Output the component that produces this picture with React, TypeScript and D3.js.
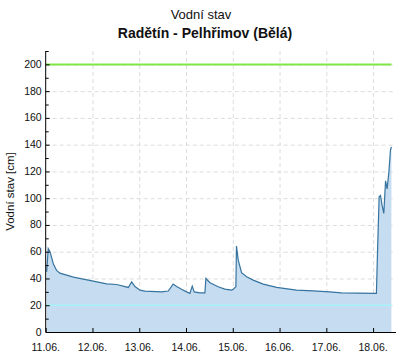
import React, { useRef, useEffect } from 'react';
import * as d3 from 'd3';

// hours since 11.06. 00:00
const hours = [
  0.5, 1.3, 2.2, 3.9, 5.6, 7.3, 10.8, 14.2, 19.3, 24.4, 31.3, 36.4, 42.4, 44.1, 45.8,
  48.4, 50.9, 59.5, 62.9, 65.4, 67.2, 69.7, 72.3, 74, 75.2, 76.2, 79.1, 81.7, 82.2,
  84.3, 88.5, 91.9, 95.4, 96.2, 97.6, 97.9, 98.8, 100.5, 103.1, 106.5, 111.6, 118.5,
  128.7, 137.2, 145.8, 151.8, 168.9, 169.7, 170.3, 171.1, 171.8, 172.6, 173.5, 174.4,
  175.2, 176.1, 176.9, 177.4,
];
// water level [cm]
const levels = [
  45, 62.4, 60, 51, 46, 44, 42.5, 41, 39.5, 38, 36, 35.5, 33.3, 37.5, 34,
  31.3, 30.6, 30, 30.6, 35.8, 34, 31.9, 30, 28.9, 34.3, 30, 29.3, 29.3, 40,
  36.8, 33.8, 32, 31.3, 31.9, 33.8, 64.2, 53.7, 44.3, 41.3, 38.8, 35.8, 33.3,
  31.3, 30.8, 30, 29.3, 28.9, 28.9, 61, 101, 102, 94.8, 88.6, 113,
  107, 119.6, 135.8, 138.3,
];
const dayLabels = ['11.06.', '12.06.', '13.06.', '14.06.', '15.06.', '16.06.', '17.06.', '18.06.'];
const limitHigh = 200;
const limitLow = 20;

const W = 402;
const H = 355;
const FONT = '"Liberation Sans", Arial, sans-serif';

const App = () => {
  const ref = useRef<SVGSVGElement>(null);

  useEffect(() => {
    const svg = d3.select(ref.current);
    svg.selectAll('*').remove();

    const m = { left: 45.7, right: 6.5, top: 51, bottom: 23 };
    const x = d3.scaleLinear().domain([0, 179.5]).range([m.left, W - m.right]);
    const y = d3.scaleLinear().domain([0, 210]).range([H - m.bottom, m.top]);

    const data = hours.map((h, i) => [h, levels[i]] as [number, number]);
    const dayTicks = dayLabels.map((_, i) => i * 24);

    // grid
    const grid = svg.append('g').attr('stroke', '#dcdcdc').attr('stroke-dasharray', '4,3');
    grid.selectAll('.gy').data(d3.range(20, 211, 20)).enter().append('line')
      .attr('x1', m.left).attr('x2', W - m.right)
      .attr('y1', d => y(d) + 0.5).attr('y2', d => y(d) + 0.5);
    grid.selectAll('.gx').data(dayTicks.slice(1)).enter().append('line')
      .attr('y1', m.top).attr('y2', H - m.bottom)
      .attr('x1', d => x(d) + 0.5).attr('x2', d => x(d) + 0.5);

    // area + line
    const area = d3.area<[number, number]>().x(d => x(d[0])).y0(y(0)).y1(d => y(d[1]));
    const line = d3.line<[number, number]>().x(d => x(d[0])).y(d => y(d[1]));
    svg.append('path').attr('d', area(data)).attr('fill', '#c6dcf0');

    // limit lines
    svg.append('line').attr('x1', m.left).attr('x2', x(177.4))
      .attr('y1', y(limitLow)).attr('y2', y(limitLow))
      .attr('stroke', '#a6f2fa').attr('stroke-width', 1.5);
    svg.append('line').attr('x1', m.left).attr('x2', x(177.4))
      .attr('y1', y(limitHigh)).attr('y2', y(limitHigh))
      .attr('stroke', '#7de844').attr('stroke-width', 2);

    svg.append('path').attr('d', line(data)).attr('fill', 'none')
      .attr('stroke', '#36749f').attr('stroke-width', 1.2);

    // y axis
    const ya = svg.append('g').attr('stroke', '#000');
    ya.append('line').attr('x1', m.left).attr('x2', m.left).attr('y1', m.top).attr('y2', H - m.bottom);
    ya.selectAll('.t').data(d3.range(0, 211, 10)).enter().append('line')
      .attr('x1', m.left).attr('x2', d => m.left + (d % 20 === 0 ? 4 : 3))
      .attr('y1', d => y(d) + 0.5).attr('y2', d => y(d) + 0.5);
    svg.append('g').selectAll('text').data(d3.range(0, 201, 20)).enter().append('text')
      .attr('x', m.left - 4).attr('y', d => y(d) + 3.5)
      .attr('text-anchor', 'end').attr('font-family', FONT).attr('font-size', 10.5)
      .attr('fill', '#111').text(d => d);

    // x axis
    const xa = svg.append('g').attr('stroke', '#000');
    xa.append('line').attr('x1', m.left).attr('x2', W - m.right + 0.5)
      .attr('y1', H - m.bottom + 0.5).attr('y2', H - m.bottom + 0.5);
    xa.selectAll('.t').data(dayTicks).enter().append('line')
      .attr('x1', d => x(d) + 0.5).attr('x2', d => x(d) + 0.5)
      .attr('y1', H - m.bottom).attr('y2', H - m.bottom - 4);
    svg.append('g').selectAll('text').data(dayLabels).enter().append('text')
      .attr('x', (_, i) => x(dayTicks[i])).attr('y', H - m.bottom + 19)
      .attr('text-anchor', 'middle').attr('font-family', FONT).attr('font-size', 10.5)
      .attr('fill', '#111').text(d => d);

    // titles
    svg.append('text').attr('x', 201).attr('y', 19).attr('text-anchor', 'middle')
      .attr('font-family', FONT).attr('font-size', 13).attr('fill', '#111').text('Vodní stav');
    svg.append('text').attr('x', 205).attr('y', 38).attr('text-anchor', 'middle')
      .attr('font-family', FONT).attr('font-size', 14).attr('font-weight', 'bold')
      .attr('fill', '#111').text('Radětín - Pelhřimov (Bělá)');
    svg.append('text').attr('transform', `translate(14,${(m.top + H - m.bottom) / 2}) rotate(-90)`)
      .attr('text-anchor', 'middle').attr('font-family', FONT).attr('font-size', 11.5)
      .attr('fill', '#111').text('Vodní stav [cm]');
  }, []);

  return (
    <svg ref={ref} width={W} height={H}
      style={{ position: 'absolute', left: 0, top: 0, background: '#fff' }} />
  );
};

export default App;
